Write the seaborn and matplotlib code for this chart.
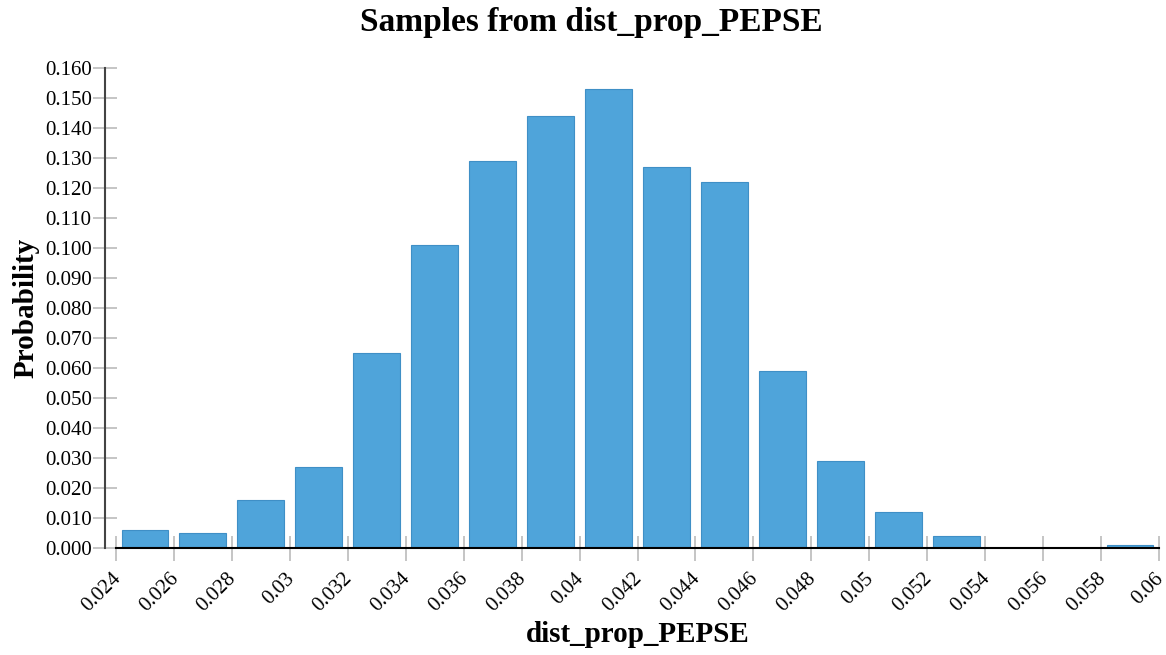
import numpy as np
import pandas as pd
import matplotlib
matplotlib.use("Agg")
import matplotlib.pyplot as plt
import matplotlib.transforms as mtransforms
import seaborn as sns

bin_edges = [0.024, 0.026, 0.028, 0.030, 0.032, 0.034, 0.036, 0.038, 0.040, 0.042,
             0.044, 0.046, 0.048, 0.050, 0.052, 0.054, 0.056, 0.058, 0.060]
probabilities = [0.006, 0.005, 0.016, 0.027, 0.065, 0.101, 0.129, 0.144, 0.153,
                 0.127, 0.122, 0.059, 0.029, 0.012, 0.004, 0.0, 0.0, 0.001]
x_tick_labels = ["0.024", "0.026", "0.028", "0.03", "0.032", "0.034", "0.036", "0.038",
                 "0.04", "0.042", "0.044", "0.046", "0.048", "0.05", "0.052", "0.054",
                 "0.056", "0.058", "0.06"]
y_ticks = [0.000, 0.010, 0.020, 0.030, 0.040, 0.050, 0.060, 0.070, 0.080,
           0.090, 0.100, 0.110, 0.120, 0.130, 0.140, 0.150, 0.160]

sns.set_style("white")
plt.rcParams["font.family"] = ["Liberation Serif", "DejaVu Serif"]
plt.rcParams["text.color"] = "black"
plt.rcParams["axes.labelcolor"] = "black"
plt.rcParams["xtick.color"] = "black"
plt.rcParams["ytick.color"] = "black"

centers = [(a + b) / 2 for a, b in zip(bin_edges[:-1], bin_edges[1:])]
df = pd.DataFrame({"x": centers, "p": probabilities})

fig = plt.figure(figsize=(11.66, 6.55), dpi=100)
W, H = 1166, 655
ax = fig.add_axes([116 / W, 1 - 548 / H, (1159 - 116) / W, (548 - 68) / H])

sns.histplot(data=df, x="x", weights="p", bins=bin_edges, stat="count",
             shrink=0.81, color="#4FA4DA", alpha=1.0, edgecolor="#3F8FC6",
             linewidth=0.8, ax=ax)

for s in ["top", "right"]:
    ax.spines[s].set_visible(False)
ax.spines["left"].set_position(("outward", 8))
ax.spines["left"].set_color("#444444")
ax.spines["left"].set_linewidth(1.5)
ax.spines["bottom"].set_color("black")
ax.spines["bottom"].set_linewidth(1.5)

ax.set_xlim(bin_edges[0], bin_edges[-1])
ax.set_ylim(0, 0.160)
ax.set_xticks(bin_edges)
ax.set_xticklabels(x_tick_labels, rotation=45, ha="right", rotation_mode="anchor",
                   fontsize=15)
ax.set_yticks(y_ticks)
ax.set_yticklabels([f"{v:.3f}" for v in y_ticks], fontsize=15)

ax.tick_params(axis="x", bottom=True, direction="inout", length=18, width=1.2,
               color="#bbbbbb", labelcolor="black", pad=1)
ax.tick_params(axis="y", left=True, direction="inout", length=17, width=1.2,
               color="#bbbbbb", labelcolor="black", pad=1)
ax.grid(False)

offset = mtransforms.ScaledTranslation(-5 / 100, -7 / 100, fig.dpi_scale_trans)
for lbl in ax.get_xticklabels():
    lbl.set_transform(lbl.get_transform() + offset)

ax.set_xlabel("dist_prop_PEPSE", fontsize=21, fontweight="bold", labelpad=4)
ax.set_ylabel("Probability", fontsize=21, fontweight="bold", labelpad=4)
fig.suptitle("Samples from dist_prop_PEPSE", fontsize=24, fontweight="bold",
             x=591 / W, y=1 - 22 / H, va="center")

fig.savefig("out.png", dpi=100)
